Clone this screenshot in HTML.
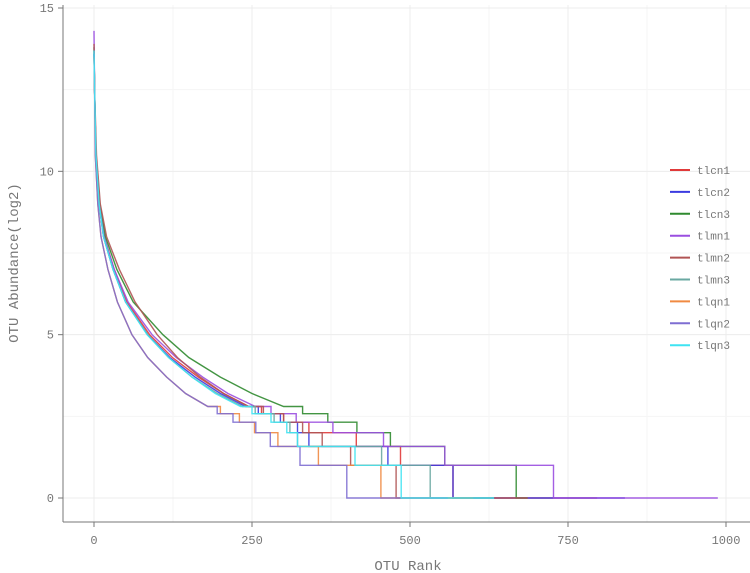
<!DOCTYPE html>
<html><head><meta charset="utf-8"><style>
body{margin:0;background:#fff;}
svg{display:block;font-family:"Liberation Mono",monospace;}
</style></head><body>
<svg id="c" width="750" height="573" viewBox="0 0 750 573"></svg>
<script>
const xTicks=[0,250,500,750,1000];
const yTicks=[0,5,10,15];
const seriesNames=["tlcn1","tlcn2","tlcn3","tlmn1","tlmn2","tlmn3","tlqn1","tlqn2","tlqn3"];
const seriesColors=["#e03a3a","#3b3be0","#2f8a2f","#9a4ee0","#b05454","#6aa8a2","#f08a42","#7e6ed2","#3fe3f2"];
const vals=[14,12.5,10.5,9,8,7,6,5,4.3,3.7,3.2,2.8,2.58,2.32,2,1.58,1,0,0];
const topVals=[13.7,13.6,13.8,14.3,13.9,13.6,13.5,13.6,13.7];
const rCn1=[0,1,3,8,16,32,52,88,124,165,205,245,265,300,340,415,485,568,796];
const rCn2=[0,1,3,8,15,30,50,85,120,160,200,240,260,295,322,340,465,568,840];
const rCn3=[0,1,3,9,18,36,62,109,150,200,250,300,330,370,416,469,555,668,686];
const rMn1=[0,1,3,8,16,32,54,92,130,172,212,255,280,320,378,458,555,727,987];
const rMn2=[0,1,4,10,20,40,65,100,132,168,205,245,268,300,330,361,406,478,686];
const rMn3=[0,1,3,8,15,30,50,85,118,155,195,235,255,285,310,322,455,532,633];
const rQn1=[0,1,2,6,11,22,37,60,85,115,145,180,200,230,254,291,355,454,600];
const rQn2=[0,1,2,6,11,22,37,60,85,115,145,180,195,220,256,279,326,400,560];
const rQn3=[0,1,3,8,15,30,50,84,118,155,192,232,250,280,305,322,413,486,633];
const seriesRanks=[rCn1,rCn2,rCn3,rMn1,rMn2,rMn3,rQn1,rQn2,rQn3];

const NS="http://www.w3.org/2000/svg";
const svg=document.getElementById('c');
const X0=94,X1=726,Y0=498,Y15=8;
const xs=v=>X0+(X1-X0)*v/1000;
const ys=v=>Y0-(Y0-Y15)*v/15;
function mk(tag,attrs,parent){const e=document.createElementNS(NS,tag);for(const k in attrs)e.setAttribute(k,attrs[k]);(parent||svg).appendChild(e);return e;}

// grid
const grid=mk('g',{});


for(let v=0;v<=1000;v+=125){mk('line',{x1:xs(v),x2:xs(v),y1:5,y2:522,stroke:v%250===0?'#ececec':'#f5f5f5','stroke-width':1},grid);}
for(let v=0;v<=15;v+=2.5){mk('line',{x1:63,x2:750,y1:ys(v),y2:ys(v),stroke:v%5===0?'#ececec':'#f5f5f5','stroke-width':1},grid);}

// axes
const ax=mk('g',{});


mk('line',{x1:63,x2:63,y1:5,y2:522,stroke:'#777','stroke-width':1},ax);
mk('line',{x1:63,x2:750,y1:522,y2:522,stroke:'#777','stroke-width':1},ax);
xTicks.forEach(t=>{
  mk('line',{x1:xs(t),x2:xs(t),y1:522,y2:527,stroke:'#777'},ax);
  const tx=mk('text',{x:xs(t),y:544,'text-anchor':'middle','font-size':12,fill:'#777'},ax);
  tx.textContent=t;
  
  
});
yTicks.forEach(t=>{
  mk('line',{x1:58,x2:63,y1:ys(t),y2:ys(t),stroke:'#777'},ax);
  const tx=mk('text',{x:54,y:ys(t)+4,'text-anchor':'end','font-size':12,fill:'#777'},ax);
  tx.textContent=t;
  
  
});
const xt=mk('text',{x:408,y:570,'text-anchor':'middle','font-size':14,fill:'#777'});
xt.textContent='OTU Rank';


const yt=mk('text',{x:18,y:263,'text-anchor':'middle','font-size':14,fill:'#777',transform:'rotate(-90 18 263)'});
yt.textContent='OTU Abundance(log2)';



// series
seriesRanks.forEach((r,si)=>{
  const v=vals.slice();v[0]=topVals[si];
  let d='M'+xs(r[0]).toFixed(1)+','+ys(v[0]).toFixed(1);
  for(let i=1;i<r.length;i++){
    if(v[i]>=2.8){d+=' L'+xs(r[i]).toFixed(1)+','+ys(v[i]).toFixed(1);}
    else{d+=' L'+xs(r[i]).toFixed(1)+','+ys(v[i-1]).toFixed(1)+' L'+xs(r[i]).toFixed(1)+','+ys(v[i]).toFixed(1);}
  }
  const p=mk('path',{d:d,fill:'none',stroke:seriesColors[si],'stroke-width':1.4,'stroke-opacity':0.9});
  
  
});

// legend
const lg=mk('g',{});


seriesNames.forEach((n,i)=>{
  const y=170+i*21.9;
  const g=mk('g',{},lg);
  
  
  mk('line',{x1:670,x2:690,y1:y,y2:y,stroke:seriesColors[i],'stroke-width':2},g);
  const t=mk('text',{x:697,y:y+4,'font-size':11,fill:'#777'},g);
  t.textContent=n;
});
</script>
</body></html>
